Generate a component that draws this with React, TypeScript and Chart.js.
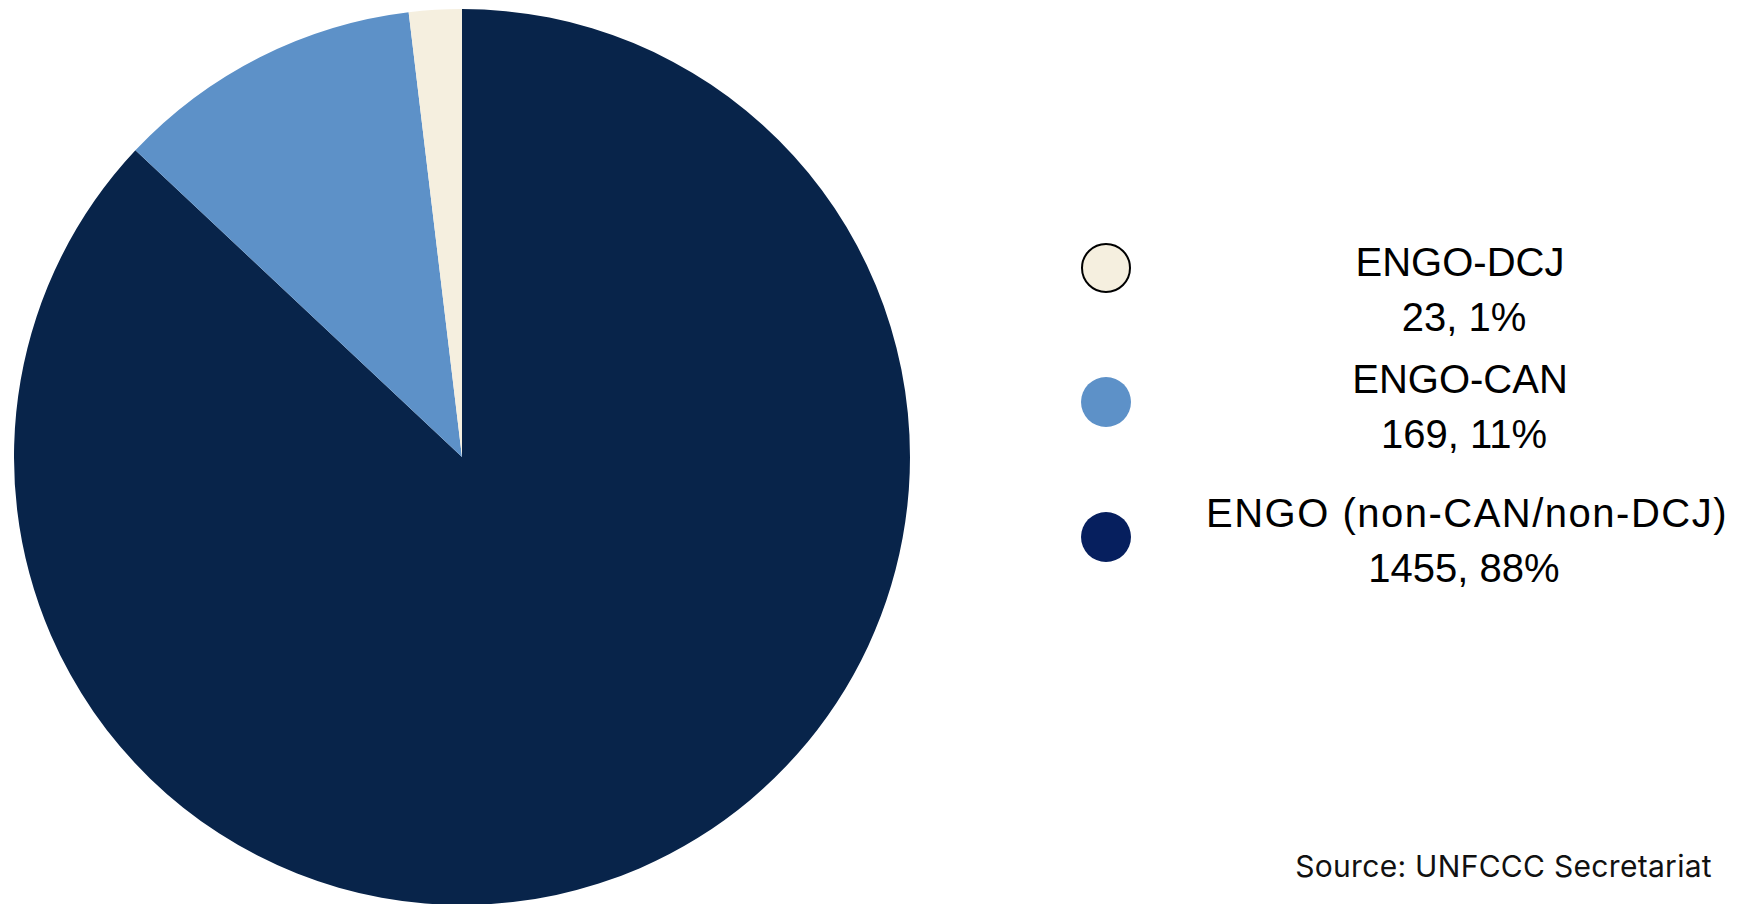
import React, { useEffect, useRef } from "react";
import { Chart, registerables } from "chart.js";

Chart.register(...registerables);

// Categories in drawing order (clockwise from 12 o'clock)
const categories = ["ENGO (non-CAN/non-DCJ)", "ENGO-CAN", "ENGO-DCJ"];
// Participant counts and percentage labels as printed in the legend
const counts = [1455, 169, 23];
const percentLabels = ["88%", "11%", "1%"];
// Slice shares (%)
const sliceShares = [87.0, 11.1, 1.9];
const sliceColors = ["#08244a", "#5d91c8", "#f5efdf"];
const legendColors = ["#061f5e", "#5d91c8", "#f5efdf"];
const sourceText = "Source: UNFCCC Secretariat";

export default function App() {
  const canvasRef = useRef<HTMLCanvasElement | null>(null);

  useEffect(() => {
    if (!canvasRef.current) return;
    const chart = new Chart(canvasRef.current, {
      type: "pie",
      data: {
        labels: categories,
        datasets: [
          {
            data: sliceShares,
            backgroundColor: sliceColors,
            borderWidth: 0,
          },
        ],
      },
      options: {
        animation: false,
        responsive: false,
        maintainAspectRatio: false,
        layout: { padding: 0 },
        plugins: {
          legend: { display: false },
          tooltip: { enabled: false },
        },
      },
    });
    return () => chart.destroy();
  }, []);

  // legend order on the page: DCJ, CAN, ENGO
  const legendOrder = [2, 1, 0];
  const circleCenters = [267.5, 402, 536.5];
  const textTops = [234.6, 351.6, 486];

  return (
    <div
      style={{
        position: "fixed",
        left: 0,
        top: 0,
        width: 1740,
        height: 904,
        background: "#ffffff",
        overflow: "hidden",
      }}
    >
      <div style={{ position: "absolute", left: 14, top: 9, width: 896, height: 896 }}>
        <canvas ref={canvasRef} width={896} height={896} />
      </div>
      {legendOrder.map((idx, i) => (
        <React.Fragment key={idx}>
          <div
            style={{
              position: "absolute",
              left: 1105.5 - 25,
              top: circleCenters[i] - 25,
              width: 50,
              height: 50,
              borderRadius: "50%",
              boxSizing: "border-box",
              background: legendColors[idx],
              border: idx === 2 ? "2.5px solid #000" : "none",
            }}
          />
          <div
            style={{
              position: "absolute",
              left: 1160,
              width: 600,
              top: textTops[i],
              textAlign: "center",
              fontFamily: "'Liberation Sans', Arial, sans-serif",
              fontSize: 40,
              lineHeight: "55px",
              color: "#000",
              whiteSpace: "nowrap",
            }}
          >
            <div style={{ letterSpacing: idx === 0 ? "1.5px" : "0px", marginLeft: idx === 0 ? 14 : 0 }}>
              {categories[idx]}
            </div>
            <div style={{ marginLeft: 8 }}>{`${counts[idx]}, ${percentLabels[idx]}`}</div>
          </div>
        </React.Fragment>
      ))}
      <div
        style={{
          position: "absolute",
          right: 28,
          top: 848,
          fontFamily: "Inter, 'Open Sans', sans-serif",
          fontSize: 30,
          letterSpacing: "0.3px",
          lineHeight: "36px",
          color: "#111",
          whiteSpace: "nowrap",
        }}
      >
        {sourceText}
      </div>
    </div>
  );
}
